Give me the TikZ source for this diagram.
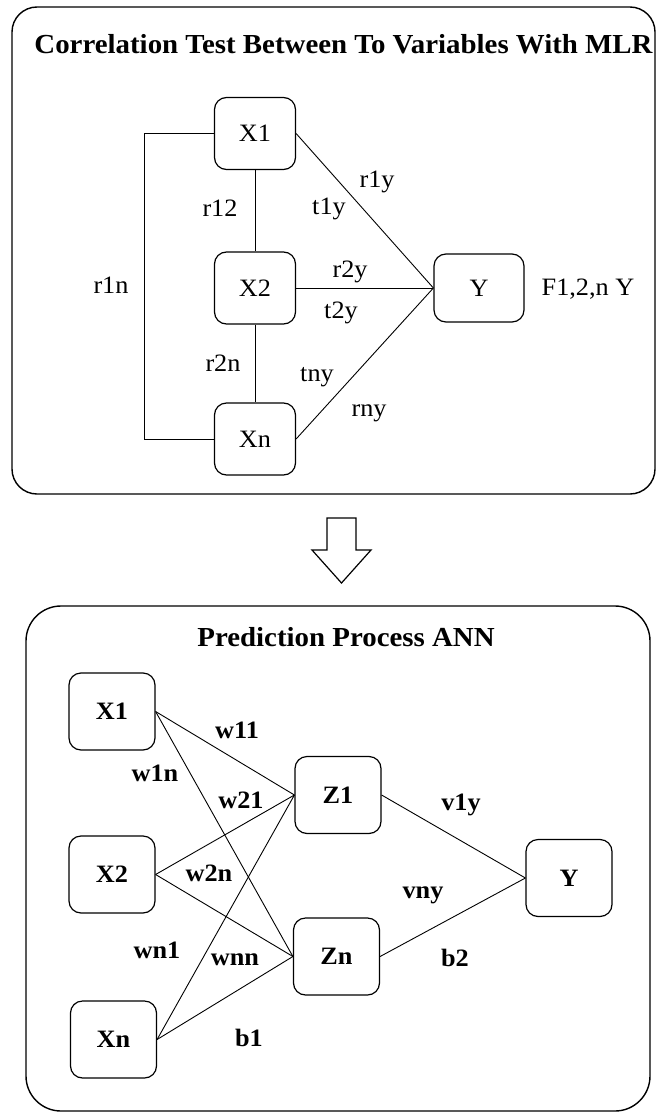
\documentclass[tikz,border=0pt]{standalone}
\usepackage{fontspec}
\setmainfont{Liberation Serif}[FakeStretch=1.05]
\begin{document}
\begin{tikzpicture}[x=1pt,y=-1pt,
  txt/.style={font=\fontsize{25}{29}\selectfont},
  btxt/.style={font=\fontsize{25}{29}\selectfont\bfseries},
  ttl/.style={font=\fontsize{27.5}{32}\selectfont\bfseries, inner sep=0pt},
  box/.style={draw, rounded corners=12pt, line width=1.2pt, minimum width=81pt, minimum height=72pt, inner sep=0pt, txt},
  bbox/.style={draw, rounded corners=12pt, line width=1.2pt, minimum width=86pt, minimum height=77pt, inner sep=0pt, btxt},
  lbl/.style={inner sep=0pt, txt},
  blbl/.style={inner sep=0pt, btxt},
  conn/.style={line width=0.9pt},
  frame/.style={draw, line width=1.4pt},
]
\useasboundingbox (0,0) rectangle (657,1113);

% ---------- top panel ----------
\draw[frame, rounded corners=25pt] (12,7) rectangle (655,494);
\node[ttl] (t1) at (343.5,44) {Correlation Test Between To Variables With MLR};

\node[box] (A1) at (255,133.5) {X1};
\node[box] (A2) at (255,288) {X2};
\node[box] (An) at (255,439) {Xn};
\node[box, minimum width=90pt, minimum height=68pt] (AY) at (479,288) {Y};

\draw[conn] (A1.south) -- (A2.north);
\draw[conn] (A2.south) -- (An.north);
\draw[conn] (A1.west) -- ++(-69,0) |- (An.west);
\draw[conn] (A1.east) -- (AY.west);
\draw[conn] (A2.east) -- (AY.west);
\draw[conn] (An.east) -- (AY.west);

\node[lbl] (l1) at (220,208) {r12};
\node[lbl] (l2) at (329,209) {t1y};
\node[lbl] (l3) at (377,182) {r1y};
\node[lbl] (l4) at (111,285) {r1n};
\node[lbl] (l5) at (350,272) {r2y};
\node[lbl] (l6) at (341,313) {t2y};
\node[lbl] (l7) at (223,363) {r2n};
\node[lbl] (l8) at (317,377) {tny};
\node[lbl] (l9) at (369,413) {rny};
\node[lbl] (l10) at (588,289) {F1,2,n Y};

% ---------- arrow ----------
\draw[line width=1.2pt, line join=miter] (327,518) -- (356,518) -- (356,550) -- (371,550) -- (341.5,583) -- (312,550) -- (327,550) -- cycle;

% ---------- bottom panel ----------
\draw[frame, rounded corners=35pt] (26,606) rectangle (650,1111);
\node[ttl] (t2) at (346,637) {Prediction Process ANN};

\node[bbox] (B1) at (112,711.5) {X1};
\node[bbox] (B2) at (112,874.5) {X2};
\node[bbox] (Bn) at (113.5,1039.5) {Xn};
\node[bbox] (Z1) at (338,795) {Z1};
\node[bbox] (Zn) at (336.5,956.5) {Zn};
\node[bbox] (BY) at (569,878) {Y};

\draw[conn] (B1.east) -- (Z1.west);
\draw[conn] (B1.east) -- (Zn.west);
\draw[conn] (B2.east) -- (Z1.west);
\draw[conn] (B2.east) -- (Zn.west);
\draw[conn] (Bn.east) -- (Z1.west);
\draw[conn] (Bn.east) -- (Zn.west);
\draw[conn] (Z1.east) -- (BY.west);
\draw[conn] (Zn.east) -- (BY.west);

\node[blbl] (m1) at (237,730) {w11};
\node[blbl] (m2) at (155,773) {w1n};
\node[blbl] (m3) at (241,800) {w21};
\node[blbl] (m4) at (461,805) {v1y};
\node[blbl] (m5) at (209,873) {w2n};
\node[blbl] (m6) at (423,895) {vny};
\node[blbl] (m7) at (157,950) {wn1};
\node[blbl] (m8) at (235,960) {wnn};
\node[blbl] (m9) at (455,958) {b2};
\node[blbl] (m10) at (249,1038) {b1};
\end{tikzpicture}
\end{document}
